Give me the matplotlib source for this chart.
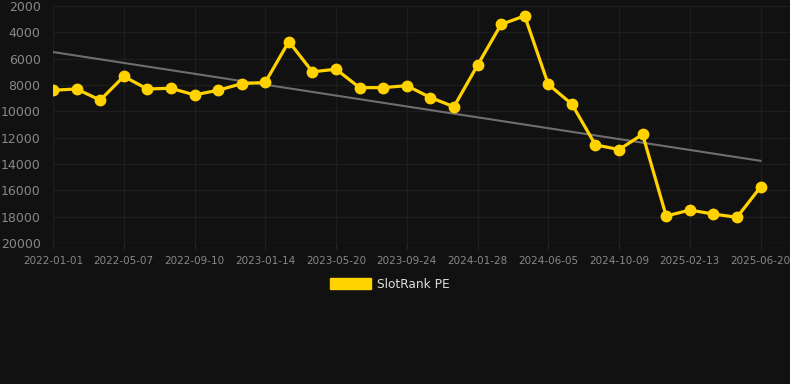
import numpy as np
import matplotlib
matplotlib.use("Agg")
import matplotlib.pyplot as plt
from matplotlib.patches import Patch

# rank values, one per snapshot (lower rank is better, axis is inverted)
ranks = [8400, 8300, 9150, 7350, 8300, 8250, 8750, 8400, 7900, 7800,
         4700, 7000, 6800, 8200, 8200, 8050, 8950, 9650, 6500, 3400,
         2750, 7950, 9450, 12550, 12900, 11750, 17950, 17500, 17800, 18050,
         15750]

tick_labels = ["2022-01-01", "2022-05-07", "2022-09-10", "2023-01-14",
               "2023-05-20", "2023-09-24", "2024-01-28", "2024-06-05",
               "2024-10-09", "2025-02-13", "2025-06-20"]

BG = "#111111"
YELLOW = "#FFD200"
GRID = "#1d1d1d"
TXT = "#888888"

fig = plt.figure(figsize=(7.9, 3.84), dpi=100, facecolor=BG)
ax = fig.add_axes([53 / 790, 1 - 243 / 384, 1 - 53 / 790, 237 / 384])
ax.set_facecolor(BG)

x = np.arange(len(ranks))

# linear trend over the series
k, b = np.polyfit(x, ranks, 1)
ax.plot(x, k * x + b, color="#6e6e6e", linewidth=1.5, zorder=2)

ax.plot(x, ranks, color=YELLOW, linewidth=2.3, marker="o", markersize=7.5,
        zorder=3)

ax.set_ylim(20000, 2000)
ax.set_yticks(range(2000, 20001, 2000))
ax.set_xlim(0, 31.25)
ax.set_xticks(x[::3])
ax.set_xticklabels(tick_labels)

ax.grid(True, color=GRID, linewidth=1)
for s in ax.spines.values():
    s.set_visible(False)
ax.axhline(20000, color="#262626", linewidth=1, zorder=1)

ax.tick_params(axis="y", length=0, pad=9, labelsize=9, labelcolor=TXT)
ax.tick_params(axis="x", length=4, color="#262626", pad=5, labelsize=7.5,
               labelcolor=TXT)

handle = Patch(facecolor=YELLOW, edgecolor=YELLOW)
fig.legend([handle], ["SlotRank PE"], loc="center",
           bbox_to_anchor=(390 / 790, 1 - 284 / 384), frameon=False,
           fontsize=8.7, labelcolor="#dddddd", handlelength=3.4,
           handleheight=1.0, handletextpad=0.5)

fig.savefig("out.png", dpi=100, facecolor=BG)
